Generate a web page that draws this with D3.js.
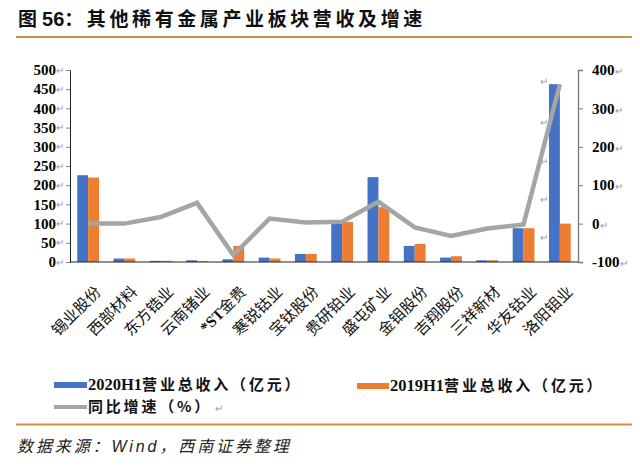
<!DOCTYPE html>
<html><head><meta charset="utf-8">
<script src="https://cdn.jsdelivr.net/npm/d3@7"></script>
<style>
html,body{margin:0;padding:0;background:#fff;}
svg{display:block;}
</style></head>
<body>
<svg id="c" width="640" height="467"></svg>
<script>
const categories = ["锡业股份","西部材料","东方锆业","云南锗业","*ST金贵","寒锐钴业","宝钛股份","贵研铂业","盛屯矿业","金钼股份","吉翔股份","三祥新材","华友钴业","洛阳钼业"];
const rev2020 = [226, 9, 3, 4.5, 7, 11.5, 21, 100, 221, 42, 11.5, 4.5, 88, 463];
const rev2019 = [220, 9, 3, 2, 42, 9, 21, 104, 143, 47, 15, 4.5, 88, 100];
const growth = [0, 0, 17, 54, -82, 13, 3, 5, 57, -10, -32, -13, -2, 363];
const leftTicks = [0,50,100,150,200,250,300,350,400,450,500];
const rightTicks = [-100,0,100,200,300,400];
const seriesNames = ["2020H1营业总收入（亿元）","2019H1营业总收入（亿元）","同比增速（%）"];
const title = "其他稀有金属产业板块营收及增速";
const source = "数据来源：Wind，西南证券整理";

const colors = {b:"#4472C4", o:"#ED7D31", g:"#A5A5A5", gold:"#C8913F"};
const svg = d3.select("#c");
const L = 70, R = 578, T = 70, B = 262;
const serif = "'Liberation Serif','Noto Sans CJK SC',serif";
const cjk = "'Noto Sans CJK SC',sans-serif";

// Title
const tt = svg.append("text").attr("x",18).attr("y",26).attr("font-family",cjk).attr("font-weight","bold").attr("font-size",19).attr("fill","#111");
tt.append("tspan").text("图");
tt.append("tspan").attr("dx",5).attr("font-family","'Liberation Sans',sans-serif").attr("font-size",20).text("56");
tt.append("tspan").style("letter-spacing","3.6px").text("：" + title);
svg.append("line").attr("x1",16).attr("x2",632).attr("y1",37).attr("y2",37).attr("stroke",colors.gold).attr("stroke-width",2.2);

const x = d3.scaleBand().domain(categories).range([L,R]).paddingInner(0.4).paddingOuter(0.2);
const xc = d3.scaleBand().domain(categories).range([L,R]);
const x1 = d3.scaleBand().domain(["a","b"]).range([0,x.bandwidth()]);
const yL = d3.scaleLinear().domain([0,500]).range([B,T]);
const yR = d3.scaleLinear().domain([-100,400]).range([B,T]);

// bars
const g = svg.append("g");
categories.forEach((c,i)=>{
  g.append("rect").attr("x",x(c)+x1("a")).attr("width",x1.bandwidth()).attr("y",yL(rev2020[i])).attr("height",yL(0)-yL(rev2020[i])).attr("fill",colors.b);
  g.append("rect").attr("x",x(c)+x1("b")).attr("width",x1.bandwidth()).attr("y",yL(rev2019[i])).attr("height",yL(0)-yL(rev2019[i])).attr("fill",colors.o);
});

// left axis
const la = svg.append("g").attr("transform",`translate(${L},0)`)
  .call(d3.axisLeft(yL).tickValues(leftTicks).tickSize(4).tickFormat(d=>d));
la.select(".domain").attr("stroke","#222");
la.selectAll(".tick line").attr("stroke","#888");
la.selectAll(".tick text").remove();
leftTicks.forEach(t=>{
  svg.append("text").attr("x",56).attr("y",yL(t)).attr("dy","0.35em").attr("text-anchor","end")
    .attr("font-family",serif).attr("font-weight","bold").attr("font-size",15).attr("fill","#000").text(t);
  svg.append("text").attr("x",56).attr("y",yL(t)).attr("dy","0.35em").attr("font-family",cjk).attr("font-size",10).attr("fill","#999").text("↵");
});

// right axis
const ra = svg.append("g").attr("transform",`translate(${R},0)`)
  .call(d3.axisRight(yR).tickValues(rightTicks).tickSize(5).tickFormat(d=>d));
ra.select(".domain").attr("stroke","#777").attr("stroke-width",1.3);
ra.selectAll(".tick line").attr("stroke","#777");
ra.selectAll(".tick text").remove();
rightTicks.forEach(t=>{
  const tx = svg.append("text").attr("x",592).attr("y",yR(t)).attr("dy","0.35em")
    .attr("font-family",serif).attr("font-weight","bold").attr("font-size",15).attr("fill","#000");
  tx.append("tspan").text(t);
  tx.append("tspan").attr("font-family",cjk).attr("font-weight","normal").attr("font-size",10).attr("fill","#999").text("↵");
});

// x axis baseline
svg.append("line").attr("x1",L).attr("x2",R).attr("y1",B).attr("y2",B).attr("stroke","#222").attr("stroke-width",1.2);

// stray paragraph marks
[360,260,160,60,-40].forEach(v=>{
  svg.append("text").attr("x",540).attr("y",yR(v)+ (v===360?-4:-1)).attr("dy","0.35em").attr("font-family",cjk).attr("font-size",10).attr("fill","#999").text("↵");
});

// line
svg.append("path").datum(growth)
  .attr("d", d3.line().x((d,i)=>xc(categories[i])+xc.bandwidth()/2).y(d=>yR(d)))
  .attr("fill","none").attr("stroke",colors.g).attr("stroke-width",4.5).attr("stroke-linejoin","miter");

// x labels
categories.forEach(c=>{
  const cx = xc(c)+xc.bandwidth()/2;
  const t = svg.append("text").attr("transform",`translate(${cx+10},${289}) rotate(-45)`)
    .attr("text-anchor","end").attr("dy","0.35em").attr("font-family",cjk).attr("font-size",15.5).attr("fill","#111");
  if(c.startsWith("*ST")){
    t.append("tspan").attr("font-family",serif).attr("font-weight","bold").text("*ST");
    t.append("tspan").text(c.slice(3));
  } else t.text(c);
});

// legend
function legText(xp, y, s){
  const m = s.match(/^([0-9A-Za-z]*)(.*)$/);
  const t = svg.append("text").attr("x",xp).attr("y",y).attr("dy","0.35em").attr("font-weight","bold").attr("font-size",15).attr("fill","#111");
  if(m[1]) t.append("tspan").attr("font-family",serif).attr("font-size",16.5).text(m[1]);
  t.append("tspan").attr("font-family",cjk).style("letter-spacing","2.8px").text(m[2]);
  return t;
}
svg.append("rect").attr("x",54).attr("y",382).attr("width",33).attr("height",6).attr("fill",colors.b);
legText(88,385,seriesNames[0]);
svg.append("rect").attr("x",357).attr("y",383).attr("width",32).attr("height",6).attr("fill",colors.o);
legText(390,386,seriesNames[1]);
svg.append("line").attr("x1",54).attr("x2",87).attr("y1",407).attr("y2",407).attr("stroke",colors.g).attr("stroke-width",4);
const lt = legText(88,407,seriesNames[2]);
lt.append("tspan").attr("font-family",cjk).attr("font-weight","normal").attr("font-size",10).attr("fill","#999").attr("dx",3).text("↵");

// bottom rule and source
svg.append("line").attr("x1",16).attr("x2",632).attr("y1",424.5).attr("y2",424.5).attr("stroke",colors.gold).attr("stroke-width",2.2);
svg.append("text").attr("x",17).attr("y",446).attr("dy","0.35em").attr("font-family","'Liberation Sans','Noto Sans CJK SC',sans-serif")
  .attr("font-style","italic").attr("font-size",16).style("letter-spacing","2.9px").attr("fill","#222").text(source);
</script>
</body></html>
